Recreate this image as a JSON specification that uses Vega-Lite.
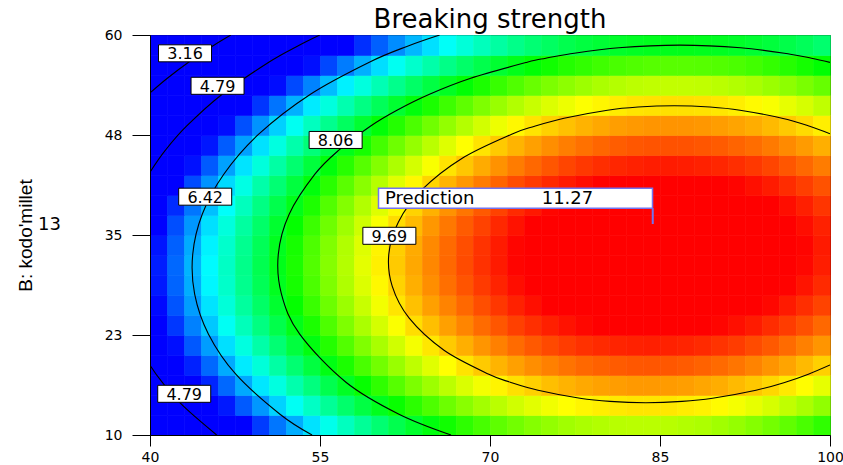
{
"$schema":"https://vega.github.io/schema/vega-lite/v6.json",
"width":680,"height":400,
"autosize":{"type":"none"},
"padding":{"left":150,"top":35,"right":13,"bottom":30},
"background":"white",
"title":{"text":"Breaking strength","font":"DejaVu Sans","fontSize":26,"fontWeight":"normal","color":"black","offset":-5,"anchor":"middle"},
"config":{"view":{"stroke":"black","strokeWidth":1},"axis":{"domainColor":"black","tickColor":"black","labelColor":"black","labelFont":"DejaVu Sans","labelFontSize":14,"grid":false,"titleFont":"Liberation Sans","titleColor":"black","titleFontWeight":"normal","labelOverlap":false,"labelFlush":false}},
"datasets":{
"cells":[
{"A":40,"B":10,"S":3.84},{"A":41.5,"B":10,"S":4.20},{"A":43,"B":10,"S":4.56},{"A":44.5,"B":10,"S":4.90},{"A":46,"B":10,"S":5.22},{"A":47.5,"B":10,"S":5.54},{"A":49,"B":10,"S":5.84},{"A":50.5,"B":10,"S":6.13},{"A":52,"B":10,"S":6.40},{"A":53.5,"B":10,"S":6.66},{"A":55,"B":10,"S":6.91},{"A":56.5,"B":10,"S":7.15},{"A":58,"B":10,"S":7.37},{"A":59.5,"B":10,"S":7.58},{"A":61,"B":10,"S":7.77},{"A":62.5,"B":10,"S":7.96},{"A":64,"B":10,"S":8.13},{"A":65.5,"B":10,"S":8.28},{"A":67,"B":10,"S":8.43},{"A":68.5,"B":10,"S":8.56},{"A":70,"B":10,"S":8.68},{"A":71.5,"B":10,"S":8.78},{"A":73,"B":10,"S":8.88},{"A":74.5,"B":10,"S":8.95},{"A":76,"B":10,"S":9.02},{"A":77.5,"B":10,"S":9.07},{"A":79,"B":10,"S":9.11},{"A":80.5,"B":10,"S":9.14},{"A":82,"B":10,"S":9.15},{"A":83.5,"B":10,"S":9.15},{"A":85,"B":10,"S":9.14},{"A":86.5,"B":10,"S":9.11},{"A":88,"B":10,"S":9.08},{"A":89.5,"B":10,"S":9.02},{"A":91,"B":10,"S":8.96},{"A":92.5,"B":10,"S":8.88},{"A":94,"B":10,"S":8.79},{"A":95.5,"B":10,"S":8.69},{"A":97,"B":10,"S":8.57},{"A":98.5,"B":10,"S":8.44},
{"A":40,"B":12.5,"S":4.28},{"A":41.5,"B":12.5,"S":4.65},{"A":43,"B":12.5,"S":5.00},{"A":44.5,"B":12.5,"S":5.34},{"A":46,"B":12.5,"S":5.67},{"A":47.5,"B":12.5,"S":5.99},{"A":49,"B":12.5,"S":6.29},{"A":50.5,"B":12.5,"S":6.58},{"A":52,"B":12.5,"S":6.86},{"A":53.5,"B":12.5,"S":7.12},{"A":55,"B":12.5,"S":7.37},{"A":56.5,"B":12.5,"S":7.61},{"A":58,"B":12.5,"S":7.83},{"A":59.5,"B":12.5,"S":8.04},{"A":61,"B":12.5,"S":8.24},{"A":62.5,"B":12.5,"S":8.42},{"A":64,"B":12.5,"S":8.59},{"A":65.5,"B":12.5,"S":8.75},{"A":67,"B":12.5,"S":8.90},{"A":68.5,"B":12.5,"S":9.03},{"A":70,"B":12.5,"S":9.15},{"A":71.5,"B":12.5,"S":9.26},{"A":73,"B":12.5,"S":9.35},{"A":74.5,"B":12.5,"S":9.43},{"A":76,"B":12.5,"S":9.50},{"A":77.5,"B":12.5,"S":9.55},{"A":79,"B":12.5,"S":9.59},{"A":80.5,"B":12.5,"S":9.62},{"A":82,"B":12.5,"S":9.64},{"A":83.5,"B":12.5,"S":9.64},{"A":85,"B":12.5,"S":9.63},{"A":86.5,"B":12.5,"S":9.60},{"A":88,"B":12.5,"S":9.57},{"A":89.5,"B":12.5,"S":9.52},{"A":91,"B":12.5,"S":9.45},{"A":92.5,"B":12.5,"S":9.38},{"A":94,"B":12.5,"S":9.29},{"A":95.5,"B":12.5,"S":9.18},{"A":97,"B":12.5,"S":9.07},{"A":98.5,"B":12.5,"S":8.94},
{"A":40,"B":15,"S":4.66},{"A":41.5,"B":15,"S":5.03},{"A":43,"B":15,"S":5.39},{"A":44.5,"B":15,"S":5.73},{"A":46,"B":15,"S":6.06},{"A":47.5,"B":15,"S":6.38},{"A":49,"B":15,"S":6.68},{"A":50.5,"B":15,"S":6.97},{"A":52,"B":15,"S":7.25},{"A":53.5,"B":15,"S":7.51},{"A":55,"B":15,"S":7.77},{"A":56.5,"B":15,"S":8.00},{"A":58,"B":15,"S":8.23},{"A":59.5,"B":15,"S":8.44},{"A":61,"B":15,"S":8.64},{"A":62.5,"B":15,"S":8.83},{"A":64,"B":15,"S":9.00},{"A":65.5,"B":15,"S":9.16},{"A":67,"B":15,"S":9.31},{"A":68.5,"B":15,"S":9.44},{"A":70,"B":15,"S":9.56},{"A":71.5,"B":15,"S":9.67},{"A":73,"B":15,"S":9.76},{"A":74.5,"B":15,"S":9.85},{"A":76,"B":15,"S":9.92},{"A":77.5,"B":15,"S":9.97},{"A":79,"B":15,"S":10.01},{"A":80.5,"B":15,"S":10.04},{"A":82,"B":15,"S":10.06},{"A":83.5,"B":15,"S":10.06},{"A":85,"B":15,"S":10.05},{"A":86.5,"B":15,"S":10.03},{"A":88,"B":15,"S":9.99},{"A":89.5,"B":15,"S":9.95},{"A":91,"B":15,"S":9.88},{"A":92.5,"B":15,"S":9.81},{"A":94,"B":15,"S":9.72},{"A":95.5,"B":15,"S":9.62},{"A":97,"B":15,"S":9.51},{"A":98.5,"B":15,"S":9.38},
{"A":40,"B":17.5,"S":4.98},{"A":41.5,"B":17.5,"S":5.35},{"A":43,"B":17.5,"S":5.71},{"A":44.5,"B":17.5,"S":6.06},{"A":46,"B":17.5,"S":6.39},{"A":47.5,"B":17.5,"S":6.70},{"A":49,"B":17.5,"S":7.01},{"A":50.5,"B":17.5,"S":7.30},{"A":52,"B":17.5,"S":7.58},{"A":53.5,"B":17.5,"S":7.85},{"A":55,"B":17.5,"S":8.10},{"A":56.5,"B":17.5,"S":8.34},{"A":58,"B":17.5,"S":8.57},{"A":59.5,"B":17.5,"S":8.78},{"A":61,"B":17.5,"S":8.98},{"A":62.5,"B":17.5,"S":9.17},{"A":64,"B":17.5,"S":9.34},{"A":65.5,"B":17.5,"S":9.50},{"A":67,"B":17.5,"S":9.65},{"A":68.5,"B":17.5,"S":9.79},{"A":70,"B":17.5,"S":9.91},{"A":71.5,"B":17.5,"S":10.02},{"A":73,"B":17.5,"S":10.12},{"A":74.5,"B":17.5,"S":10.20},{"A":76,"B":17.5,"S":10.27},{"A":77.5,"B":17.5,"S":10.33},{"A":79,"B":17.5,"S":10.37},{"A":80.5,"B":17.5,"S":10.40},{"A":82,"B":17.5,"S":10.42},{"A":83.5,"B":17.5,"S":10.43},{"A":85,"B":17.5,"S":10.42},{"A":86.5,"B":17.5,"S":10.40},{"A":88,"B":17.5,"S":10.36},{"A":89.5,"B":17.5,"S":10.32},{"A":91,"B":17.5,"S":10.26},{"A":92.5,"B":17.5,"S":10.18},{"A":94,"B":17.5,"S":10.09},{"A":95.5,"B":17.5,"S":10.00},{"A":97,"B":17.5,"S":9.88},{"A":98.5,"B":17.5,"S":9.76},
{"A":40,"B":20,"S":5.25},{"A":41.5,"B":20,"S":5.62},{"A":43,"B":20,"S":5.98},{"A":44.5,"B":20,"S":6.32},{"A":46,"B":20,"S":6.65},{"A":47.5,"B":20,"S":6.97},{"A":49,"B":20,"S":7.28},{"A":50.5,"B":20,"S":7.57},{"A":52,"B":20,"S":7.86},{"A":53.5,"B":20,"S":8.12},{"A":55,"B":20,"S":8.38},{"A":56.5,"B":20,"S":8.62},{"A":58,"B":20,"S":8.85},{"A":59.5,"B":20,"S":9.06},{"A":61,"B":20,"S":9.26},{"A":62.5,"B":20,"S":9.45},{"A":64,"B":20,"S":9.63},{"A":65.5,"B":20,"S":9.79},{"A":67,"B":20,"S":9.94},{"A":68.5,"B":20,"S":10.08},{"A":70,"B":20,"S":10.20},{"A":71.5,"B":20,"S":10.31},{"A":73,"B":20,"S":10.41},{"A":74.5,"B":20,"S":10.50},{"A":76,"B":20,"S":10.57},{"A":77.5,"B":20,"S":10.63},{"A":79,"B":20,"S":10.67},{"A":80.5,"B":20,"S":10.70},{"A":82,"B":20,"S":10.72},{"A":83.5,"B":20,"S":10.73},{"A":85,"B":20,"S":10.72},{"A":86.5,"B":20,"S":10.70},{"A":88,"B":20,"S":10.67},{"A":89.5,"B":20,"S":10.62},{"A":91,"B":20,"S":10.57},{"A":92.5,"B":20,"S":10.49},{"A":94,"B":20,"S":10.41},{"A":95.5,"B":20,"S":10.31},{"A":97,"B":20,"S":10.20},{"A":98.5,"B":20,"S":10.08},
{"A":40,"B":22.5,"S":5.45},{"A":41.5,"B":22.5,"S":5.82},{"A":43,"B":22.5,"S":6.18},{"A":44.5,"B":22.5,"S":6.53},{"A":46,"B":22.5,"S":6.86},{"A":47.5,"B":22.5,"S":7.18},{"A":49,"B":22.5,"S":7.49},{"A":50.5,"B":22.5,"S":7.79},{"A":52,"B":22.5,"S":8.07},{"A":53.5,"B":22.5,"S":8.34},{"A":55,"B":22.5,"S":8.59},{"A":56.5,"B":22.5,"S":8.84},{"A":58,"B":22.5,"S":9.07},{"A":59.5,"B":22.5,"S":9.28},{"A":61,"B":22.5,"S":9.48},{"A":62.5,"B":22.5,"S":9.68},{"A":64,"B":22.5,"S":9.85},{"A":65.5,"B":22.5,"S":10.02},{"A":67,"B":22.5,"S":10.17},{"A":68.5,"B":22.5,"S":10.31},{"A":70,"B":22.5,"S":10.43},{"A":71.5,"B":22.5,"S":10.55},{"A":73,"B":22.5,"S":10.64},{"A":74.5,"B":22.5,"S":10.73},{"A":76,"B":22.5,"S":10.80},{"A":77.5,"B":22.5,"S":10.86},{"A":79,"B":22.5,"S":10.91},{"A":80.5,"B":22.5,"S":10.94},{"A":82,"B":22.5,"S":10.97},{"A":83.5,"B":22.5,"S":10.97},{"A":85,"B":22.5,"S":10.97},{"A":86.5,"B":22.5,"S":10.95},{"A":88,"B":22.5,"S":10.92},{"A":89.5,"B":22.5,"S":10.87},{"A":91,"B":22.5,"S":10.82},{"A":92.5,"B":22.5,"S":10.75},{"A":94,"B":22.5,"S":10.66},{"A":95.5,"B":22.5,"S":10.57},{"A":97,"B":22.5,"S":10.46},{"A":98.5,"B":22.5,"S":10.33},
{"A":40,"B":25,"S":5.59},{"A":41.5,"B":25,"S":5.96},{"A":43,"B":25,"S":6.32},{"A":44.5,"B":25,"S":6.67},{"A":46,"B":25,"S":7.01},{"A":47.5,"B":25,"S":7.33},{"A":49,"B":25,"S":7.64},{"A":50.5,"B":25,"S":7.94},{"A":52,"B":25,"S":8.22},{"A":53.5,"B":25,"S":8.49},{"A":55,"B":25,"S":8.75},{"A":56.5,"B":25,"S":8.99},{"A":58,"B":25,"S":9.22},{"A":59.5,"B":25,"S":9.44},{"A":61,"B":25,"S":9.64},{"A":62.5,"B":25,"S":9.84},{"A":64,"B":25,"S":10.02},{"A":65.5,"B":25,"S":10.18},{"A":67,"B":25,"S":10.33},{"A":68.5,"B":25,"S":10.47},{"A":70,"B":25,"S":10.60},{"A":71.5,"B":25,"S":10.72},{"A":73,"B":25,"S":10.82},{"A":74.5,"B":25,"S":10.90},{"A":76,"B":25,"S":10.98},{"A":77.5,"B":25,"S":11.04},{"A":79,"B":25,"S":11.09},{"A":80.5,"B":25,"S":11.12},{"A":82,"B":25,"S":11.15},{"A":83.5,"B":25,"S":11.16},{"A":85,"B":25,"S":11.15},{"A":86.5,"B":25,"S":11.13},{"A":88,"B":25,"S":11.11},{"A":89.5,"B":25,"S":11.06},{"A":91,"B":25,"S":11.01},{"A":92.5,"B":25,"S":10.94},{"A":94,"B":25,"S":10.86},{"A":95.5,"B":25,"S":10.76},{"A":97,"B":25,"S":10.65},{"A":98.5,"B":25,"S":10.53},
{"A":40,"B":27.5,"S":5.67},{"A":41.5,"B":27.5,"S":6.04},{"A":43,"B":27.5,"S":6.40},{"A":44.5,"B":27.5,"S":6.76},{"A":46,"B":27.5,"S":7.09},{"A":47.5,"B":27.5,"S":7.42},{"A":49,"B":27.5,"S":7.73},{"A":50.5,"B":27.5,"S":8.03},{"A":52,"B":27.5,"S":8.31},{"A":53.5,"B":27.5,"S":8.58},{"A":55,"B":27.5,"S":8.84},{"A":56.5,"B":27.5,"S":9.09},{"A":58,"B":27.5,"S":9.32},{"A":59.5,"B":27.5,"S":9.54},{"A":61,"B":27.5,"S":9.74},{"A":62.5,"B":27.5,"S":9.94},{"A":64,"B":27.5,"S":10.12},{"A":65.5,"B":27.5,"S":10.29},{"A":67,"B":27.5,"S":10.44},{"A":68.5,"B":27.5,"S":10.58},{"A":70,"B":27.5,"S":10.71},{"A":71.5,"B":27.5,"S":10.83},{"A":73,"B":27.5,"S":10.93},{"A":74.5,"B":27.5,"S":11.02},{"A":76,"B":27.5,"S":11.09},{"A":77.5,"B":27.5,"S":11.16},{"A":79,"B":27.5,"S":11.21},{"A":80.5,"B":27.5,"S":11.24},{"A":82,"B":27.5,"S":11.27},{"A":83.5,"B":27.5,"S":11.28},{"A":85,"B":27.5,"S":11.28},{"A":86.5,"B":27.5,"S":11.26},{"A":88,"B":27.5,"S":11.23},{"A":89.5,"B":27.5,"S":11.19},{"A":91,"B":27.5,"S":11.14},{"A":92.5,"B":27.5,"S":11.07},{"A":94,"B":27.5,"S":10.99},{"A":95.5,"B":27.5,"S":10.89},{"A":97,"B":27.5,"S":10.79},{"A":98.5,"B":27.5,"S":10.67},
{"A":40,"B":30,"S":5.69},{"A":41.5,"B":30,"S":6.06},{"A":43,"B":30,"S":6.43},{"A":44.5,"B":30,"S":6.78},{"A":46,"B":30,"S":7.12},{"A":47.5,"B":30,"S":7.44},{"A":49,"B":30,"S":7.76},{"A":50.5,"B":30,"S":8.06},{"A":52,"B":30,"S":8.34},{"A":53.5,"B":30,"S":8.62},{"A":55,"B":30,"S":8.88},{"A":56.5,"B":30,"S":9.12},{"A":58,"B":30,"S":9.36},{"A":59.5,"B":30,"S":9.58},{"A":61,"B":30,"S":9.79},{"A":62.5,"B":30,"S":9.98},{"A":64,"B":30,"S":10.16},{"A":65.5,"B":30,"S":10.33},{"A":67,"B":30,"S":10.49},{"A":68.5,"B":30,"S":10.63},{"A":70,"B":30,"S":10.76},{"A":71.5,"B":30,"S":10.88},{"A":73,"B":30,"S":10.98},{"A":74.5,"B":30,"S":11.07},{"A":76,"B":30,"S":11.15},{"A":77.5,"B":30,"S":11.21},{"A":79,"B":30,"S":11.26},{"A":80.5,"B":30,"S":11.30},{"A":82,"B":30,"S":11.33},{"A":83.5,"B":30,"S":11.34},{"A":85,"B":30,"S":11.34},{"A":86.5,"B":30,"S":11.32},{"A":88,"B":30,"S":11.30},{"A":89.5,"B":30,"S":11.26},{"A":91,"B":30,"S":11.21},{"A":92.5,"B":30,"S":11.14},{"A":94,"B":30,"S":11.06},{"A":95.5,"B":30,"S":10.97},{"A":97,"B":30,"S":10.86},{"A":98.5,"B":30,"S":10.74},
{"A":40,"B":32.5,"S":5.65},{"A":41.5,"B":32.5,"S":6.02},{"A":43,"B":32.5,"S":6.39},{"A":44.5,"B":32.5,"S":6.74},{"A":46,"B":32.5,"S":7.08},{"A":47.5,"B":32.5,"S":7.41},{"A":49,"B":32.5,"S":7.72},{"A":50.5,"B":32.5,"S":8.03},{"A":52,"B":32.5,"S":8.31},{"A":53.5,"B":32.5,"S":8.59},{"A":55,"B":32.5,"S":8.85},{"A":56.5,"B":32.5,"S":9.10},{"A":58,"B":32.5,"S":9.33},{"A":59.5,"B":32.5,"S":9.56},{"A":61,"B":32.5,"S":9.77},{"A":62.5,"B":32.5,"S":9.96},{"A":64,"B":32.5,"S":10.15},{"A":65.5,"B":32.5,"S":10.32},{"A":67,"B":32.5,"S":10.47},{"A":68.5,"B":32.5,"S":10.62},{"A":70,"B":32.5,"S":10.75},{"A":71.5,"B":32.5,"S":10.87},{"A":73,"B":32.5,"S":10.97},{"A":74.5,"B":32.5,"S":11.06},{"A":76,"B":32.5,"S":11.14},{"A":77.5,"B":32.5,"S":11.21},{"A":79,"B":32.5,"S":11.26},{"A":80.5,"B":32.5,"S":11.30},{"A":82,"B":32.5,"S":11.33},{"A":83.5,"B":32.5,"S":11.34},{"A":85,"B":32.5,"S":11.34},{"A":86.5,"B":32.5,"S":11.33},{"A":88,"B":32.5,"S":11.30},{"A":89.5,"B":32.5,"S":11.27},{"A":91,"B":32.5,"S":11.22},{"A":92.5,"B":32.5,"S":11.15},{"A":94,"B":32.5,"S":11.07},{"A":95.5,"B":32.5,"S":10.98},{"A":97,"B":32.5,"S":10.88},{"A":98.5,"B":32.5,"S":10.76},
{"A":40,"B":35,"S":5.55},{"A":41.5,"B":35,"S":5.93},{"A":43,"B":35,"S":6.29},{"A":44.5,"B":35,"S":6.65},{"A":46,"B":35,"S":6.99},{"A":47.5,"B":35,"S":7.32},{"A":49,"B":35,"S":7.63},{"A":50.5,"B":35,"S":7.94},{"A":52,"B":35,"S":8.22},{"A":53.5,"B":35,"S":8.50},{"A":55,"B":35,"S":8.76},{"A":56.5,"B":35,"S":9.01},{"A":58,"B":35,"S":9.25},{"A":59.5,"B":35,"S":9.47},{"A":61,"B":35,"S":9.69},{"A":62.5,"B":35,"S":9.88},{"A":64,"B":35,"S":10.07},{"A":65.5,"B":35,"S":10.24},{"A":67,"B":35,"S":10.40},{"A":68.5,"B":35,"S":10.54},{"A":70,"B":35,"S":10.68},{"A":71.5,"B":35,"S":10.80},{"A":73,"B":35,"S":10.90},{"A":74.5,"B":35,"S":11.00},{"A":76,"B":35,"S":11.08},{"A":77.5,"B":35,"S":11.14},{"A":79,"B":35,"S":11.20},{"A":80.5,"B":35,"S":11.24},{"A":82,"B":35,"S":11.27},{"A":83.5,"B":35,"S":11.28},{"A":85,"B":35,"S":11.29},{"A":86.5,"B":35,"S":11.27},{"A":88,"B":35,"S":11.25},{"A":89.5,"B":35,"S":11.21},{"A":91,"B":35,"S":11.16},{"A":92.5,"B":35,"S":11.10},{"A":94,"B":35,"S":11.02},{"A":95.5,"B":35,"S":10.94},{"A":97,"B":35,"S":10.83},{"A":98.5,"B":35,"S":10.72},
{"A":40,"B":37.5,"S":5.38},{"A":41.5,"B":37.5,"S":5.76},{"A":43,"B":37.5,"S":6.13},{"A":44.5,"B":37.5,"S":6.49},{"A":46,"B":37.5,"S":6.83},{"A":47.5,"B":37.5,"S":7.16},{"A":49,"B":37.5,"S":7.48},{"A":50.5,"B":37.5,"S":7.78},{"A":52,"B":37.5,"S":8.07},{"A":53.5,"B":37.5,"S":8.35},{"A":55,"B":37.5,"S":8.62},{"A":56.5,"B":37.5,"S":8.87},{"A":58,"B":37.5,"S":9.11},{"A":59.5,"B":37.5,"S":9.33},{"A":61,"B":37.5,"S":9.54},{"A":62.5,"B":37.5,"S":9.74},{"A":64,"B":37.5,"S":9.93},{"A":65.5,"B":37.5,"S":10.10},{"A":67,"B":37.5,"S":10.26},{"A":68.5,"B":37.5,"S":10.41},{"A":70,"B":37.5,"S":10.54},{"A":71.5,"B":37.5,"S":10.67},{"A":73,"B":37.5,"S":10.77},{"A":74.5,"B":37.5,"S":10.87},{"A":76,"B":37.5,"S":10.95},{"A":77.5,"B":37.5,"S":11.02},{"A":79,"B":37.5,"S":11.07},{"A":80.5,"B":37.5,"S":11.12},{"A":82,"B":37.5,"S":11.15},{"A":83.5,"B":37.5,"S":11.16},{"A":85,"B":37.5,"S":11.17},{"A":86.5,"B":37.5,"S":11.16},{"A":88,"B":37.5,"S":11.13},{"A":89.5,"B":37.5,"S":11.10},{"A":91,"B":37.5,"S":11.05},{"A":92.5,"B":37.5,"S":10.99},{"A":94,"B":37.5,"S":10.91},{"A":95.5,"B":37.5,"S":10.83},{"A":97,"B":37.5,"S":10.73},{"A":98.5,"B":37.5,"S":10.61},
{"A":40,"B":40,"S":5.16},{"A":41.5,"B":40,"S":5.55},{"A":43,"B":40,"S":5.92},{"A":44.5,"B":40,"S":6.27},{"A":46,"B":40,"S":6.62},{"A":47.5,"B":40,"S":6.95},{"A":49,"B":40,"S":7.27},{"A":50.5,"B":40,"S":7.57},{"A":52,"B":40,"S":7.86},{"A":53.5,"B":40,"S":8.14},{"A":55,"B":40,"S":8.41},{"A":56.5,"B":40,"S":8.66},{"A":58,"B":40,"S":8.90},{"A":59.5,"B":40,"S":9.13},{"A":61,"B":40,"S":9.34},{"A":62.5,"B":40,"S":9.54},{"A":64,"B":40,"S":9.73},{"A":65.5,"B":40,"S":9.91},{"A":67,"B":40,"S":10.07},{"A":68.5,"B":40,"S":10.22},{"A":70,"B":40,"S":10.35},{"A":71.5,"B":40,"S":10.48},{"A":73,"B":40,"S":10.58},{"A":74.5,"B":40,"S":10.68},{"A":76,"B":40,"S":10.76},{"A":77.5,"B":40,"S":10.83},{"A":79,"B":40,"S":10.89},{"A":80.5,"B":40,"S":10.94},{"A":82,"B":40,"S":10.97},{"A":83.5,"B":40,"S":10.98},{"A":85,"B":40,"S":10.99},{"A":86.5,"B":40,"S":10.98},{"A":88,"B":40,"S":10.96},{"A":89.5,"B":40,"S":10.93},{"A":91,"B":40,"S":10.88},{"A":92.5,"B":40,"S":10.82},{"A":94,"B":40,"S":10.75},{"A":95.5,"B":40,"S":10.66},{"A":97,"B":40,"S":10.56},{"A":98.5,"B":40,"S":10.45},
{"A":40,"B":42.5,"S":4.88},{"A":41.5,"B":42.5,"S":5.26},{"A":43,"B":42.5,"S":5.63},{"A":44.5,"B":42.5,"S":5.99},{"A":46,"B":42.5,"S":6.34},{"A":47.5,"B":42.5,"S":6.67},{"A":49,"B":42.5,"S":6.99},{"A":50.5,"B":42.5,"S":7.30},{"A":52,"B":42.5,"S":7.59},{"A":53.5,"B":42.5,"S":7.87},{"A":55,"B":42.5,"S":8.14},{"A":56.5,"B":42.5,"S":8.40},{"A":58,"B":42.5,"S":8.64},{"A":59.5,"B":42.5,"S":8.87},{"A":61,"B":42.5,"S":9.08},{"A":62.5,"B":42.5,"S":9.28},{"A":64,"B":42.5,"S":9.47},{"A":65.5,"B":42.5,"S":9.65},{"A":67,"B":42.5,"S":9.81},{"A":68.5,"B":42.5,"S":9.96},{"A":70,"B":42.5,"S":10.10},{"A":71.5,"B":42.5,"S":10.22},{"A":73,"B":42.5,"S":10.33},{"A":74.5,"B":42.5,"S":10.43},{"A":76,"B":42.5,"S":10.52},{"A":77.5,"B":42.5,"S":10.59},{"A":79,"B":42.5,"S":10.65},{"A":80.5,"B":42.5,"S":10.69},{"A":82,"B":42.5,"S":10.72},{"A":83.5,"B":42.5,"S":10.74},{"A":85,"B":42.5,"S":10.75},{"A":86.5,"B":42.5,"S":10.74},{"A":88,"B":42.5,"S":10.72},{"A":89.5,"B":42.5,"S":10.69},{"A":91,"B":42.5,"S":10.65},{"A":92.5,"B":42.5,"S":10.59},{"A":94,"B":42.5,"S":10.52},{"A":95.5,"B":42.5,"S":10.43},{"A":97,"B":42.5,"S":10.33},{"A":98.5,"B":42.5,"S":10.22},
{"A":40,"B":45,"S":4.54},{"A":41.5,"B":45,"S":4.92},{"A":43,"B":45,"S":5.30},{"A":44.5,"B":45,"S":5.66},{"A":46,"B":45,"S":6.00},{"A":47.5,"B":45,"S":6.34},{"A":49,"B":45,"S":6.66},{"A":50.5,"B":45,"S":6.97},{"A":52,"B":45,"S":7.26},{"A":53.5,"B":45,"S":7.54},{"A":55,"B":45,"S":7.81},{"A":56.5,"B":45,"S":8.07},{"A":58,"B":45,"S":8.31},{"A":59.5,"B":45,"S":8.54},{"A":61,"B":45,"S":8.76},{"A":62.5,"B":45,"S":8.96},{"A":64,"B":45,"S":9.15},{"A":65.5,"B":45,"S":9.33},{"A":67,"B":45,"S":9.50},{"A":68.5,"B":45,"S":9.65},{"A":70,"B":45,"S":9.79},{"A":71.5,"B":45,"S":9.91},{"A":73,"B":45,"S":10.02},{"A":74.5,"B":45,"S":10.12},{"A":76,"B":45,"S":10.21},{"A":77.5,"B":45,"S":10.28},{"A":79,"B":45,"S":10.34},{"A":80.5,"B":45,"S":10.39},{"A":82,"B":45,"S":10.42},{"A":83.5,"B":45,"S":10.44},{"A":85,"B":45,"S":10.45},{"A":86.5,"B":45,"S":10.45},{"A":88,"B":45,"S":10.43},{"A":89.5,"B":45,"S":10.40},{"A":91,"B":45,"S":10.35},{"A":92.5,"B":45,"S":10.30},{"A":94,"B":45,"S":10.23},{"A":95.5,"B":45,"S":10.14},{"A":97,"B":45,"S":10.05},{"A":98.5,"B":45,"S":9.94},
{"A":40,"B":47.5,"S":4.13},{"A":41.5,"B":47.5,"S":4.52},{"A":43,"B":47.5,"S":4.90},{"A":44.5,"B":47.5,"S":5.26},{"A":46,"B":47.5,"S":5.61},{"A":47.5,"B":47.5,"S":5.94},{"A":49,"B":47.5,"S":6.27},{"A":50.5,"B":47.5,"S":6.57},{"A":52,"B":47.5,"S":6.87},{"A":53.5,"B":47.5,"S":7.15},{"A":55,"B":47.5,"S":7.42},{"A":56.5,"B":47.5,"S":7.68},{"A":58,"B":47.5,"S":7.93},{"A":59.5,"B":47.5,"S":8.16},{"A":61,"B":47.5,"S":8.38},{"A":62.5,"B":47.5,"S":8.58},{"A":64,"B":47.5,"S":8.77},{"A":65.5,"B":47.5,"S":8.95},{"A":67,"B":47.5,"S":9.12},{"A":68.5,"B":47.5,"S":9.27},{"A":70,"B":47.5,"S":9.41},{"A":71.5,"B":47.5,"S":9.54},{"A":73,"B":47.5,"S":9.65},{"A":74.5,"B":47.5,"S":9.75},{"A":76,"B":47.5,"S":9.84},{"A":77.5,"B":47.5,"S":9.92},{"A":79,"B":47.5,"S":9.98},{"A":80.5,"B":47.5,"S":10.03},{"A":82,"B":47.5,"S":10.06},{"A":83.5,"B":47.5,"S":10.08},{"A":85,"B":47.5,"S":10.09},{"A":86.5,"B":47.5,"S":10.09},{"A":88,"B":47.5,"S":10.07},{"A":89.5,"B":47.5,"S":10.04},{"A":91,"B":47.5,"S":10.00},{"A":92.5,"B":47.5,"S":9.95},{"A":94,"B":47.5,"S":9.88},{"A":95.5,"B":47.5,"S":9.79},{"A":97,"B":47.5,"S":9.70},{"A":98.5,"B":47.5,"S":9.59},
{"A":40,"B":50,"S":3.67},{"A":41.5,"B":50,"S":4.06},{"A":43,"B":50,"S":4.44},{"A":44.5,"B":50,"S":4.80},{"A":46,"B":50,"S":5.15},{"A":47.5,"B":50,"S":5.49},{"A":49,"B":50,"S":5.81},{"A":50.5,"B":50,"S":6.12},{"A":52,"B":50,"S":6.42},{"A":53.5,"B":50,"S":6.70},{"A":55,"B":50,"S":6.98},{"A":56.5,"B":50,"S":7.24},{"A":58,"B":50,"S":7.48},{"A":59.5,"B":50,"S":7.71},{"A":61,"B":50,"S":7.93},{"A":62.5,"B":50,"S":8.14},{"A":64,"B":50,"S":8.33},{"A":65.5,"B":50,"S":8.51},{"A":67,"B":50,"S":8.68},{"A":68.5,"B":50,"S":8.84},{"A":70,"B":50,"S":8.98},{"A":71.5,"B":50,"S":9.11},{"A":73,"B":50,"S":9.22},{"A":74.5,"B":50,"S":9.32},{"A":76,"B":50,"S":9.41},{"A":77.5,"B":50,"S":9.49},{"A":79,"B":50,"S":9.55},{"A":80.5,"B":50,"S":9.60},{"A":82,"B":50,"S":9.64},{"A":83.5,"B":50,"S":9.66},{"A":85,"B":50,"S":9.67},{"A":86.5,"B":50,"S":9.67},{"A":88,"B":50,"S":9.66},{"A":89.5,"B":50,"S":9.63},{"A":91,"B":50,"S":9.59},{"A":92.5,"B":50,"S":9.53},{"A":94,"B":50,"S":9.47},{"A":95.5,"B":50,"S":9.38},{"A":97,"B":50,"S":9.29},{"A":98.5,"B":50,"S":9.18},
{"A":40,"B":52.5,"S":3.15},{"A":41.5,"B":52.5,"S":3.54},{"A":43,"B":52.5,"S":3.91},{"A":44.5,"B":52.5,"S":4.28},{"A":46,"B":52.5,"S":4.63},{"A":47.5,"B":52.5,"S":4.97},{"A":49,"B":52.5,"S":5.30},{"A":50.5,"B":52.5,"S":5.61},{"A":52,"B":52.5,"S":5.91},{"A":53.5,"B":52.5,"S":6.19},{"A":55,"B":52.5,"S":6.47},{"A":56.5,"B":52.5,"S":6.73},{"A":58,"B":52.5,"S":6.98},{"A":59.5,"B":52.5,"S":7.21},{"A":61,"B":52.5,"S":7.43},{"A":62.5,"B":52.5,"S":7.64},{"A":64,"B":52.5,"S":7.83},{"A":65.5,"B":52.5,"S":8.01},{"A":67,"B":52.5,"S":8.18},{"A":68.5,"B":52.5,"S":8.34},{"A":70,"B":52.5,"S":8.48},{"A":71.5,"B":52.5,"S":8.61},{"A":73,"B":52.5,"S":8.73},{"A":74.5,"B":52.5,"S":8.83},{"A":76,"B":52.5,"S":8.92},{"A":77.5,"B":52.5,"S":9.00},{"A":79,"B":52.5,"S":9.07},{"A":80.5,"B":52.5,"S":9.12},{"A":82,"B":52.5,"S":9.16},{"A":83.5,"B":52.5,"S":9.18},{"A":85,"B":52.5,"S":9.19},{"A":86.5,"B":52.5,"S":9.19},{"A":88,"B":52.5,"S":9.18},{"A":89.5,"B":52.5,"S":9.15},{"A":91,"B":52.5,"S":9.11},{"A":92.5,"B":52.5,"S":9.06},{"A":94,"B":52.5,"S":8.99},{"A":95.5,"B":52.5,"S":8.92},{"A":97,"B":52.5,"S":8.82},{"A":98.5,"B":52.5,"S":8.72},
{"A":40,"B":55,"S":2.56},{"A":41.5,"B":55,"S":2.95},{"A":43,"B":55,"S":3.33},{"A":44.5,"B":55,"S":3.70},{"A":46,"B":55,"S":4.05},{"A":47.5,"B":55,"S":4.39},{"A":49,"B":55,"S":4.72},{"A":50.5,"B":55,"S":5.03},{"A":52,"B":55,"S":5.33},{"A":53.5,"B":55,"S":5.62},{"A":55,"B":55,"S":5.90},{"A":56.5,"B":55,"S":6.16},{"A":58,"B":55,"S":6.41},{"A":59.5,"B":55,"S":6.64},{"A":61,"B":55,"S":6.87},{"A":62.5,"B":55,"S":7.08},{"A":64,"B":55,"S":7.27},{"A":65.5,"B":55,"S":7.46},{"A":67,"B":55,"S":7.63},{"A":68.5,"B":55,"S":7.78},{"A":70,"B":55,"S":7.93},{"A":71.5,"B":55,"S":8.06},{"A":73,"B":55,"S":8.18},{"A":74.5,"B":55,"S":8.28},{"A":76,"B":55,"S":8.38},{"A":77.5,"B":55,"S":8.45},{"A":79,"B":55,"S":8.52},{"A":80.5,"B":55,"S":8.57},{"A":82,"B":55,"S":8.61},{"A":83.5,"B":55,"S":8.64},{"A":85,"B":55,"S":8.65},{"A":86.5,"B":55,"S":8.65},{"A":88,"B":55,"S":8.64},{"A":89.5,"B":55,"S":8.62},{"A":91,"B":55,"S":8.58},{"A":92.5,"B":55,"S":8.53},{"A":94,"B":55,"S":8.46},{"A":95.5,"B":55,"S":8.39},{"A":97,"B":55,"S":8.30},{"A":98.5,"B":55,"S":8.19},
{"A":40,"B":57.5,"S":1.92},{"A":41.5,"B":57.5,"S":2.31},{"A":43,"B":57.5,"S":2.69},{"A":44.5,"B":57.5,"S":3.06},{"A":46,"B":57.5,"S":3.41},{"A":47.5,"B":57.5,"S":3.76},{"A":49,"B":57.5,"S":4.09},{"A":50.5,"B":57.5,"S":4.40},{"A":52,"B":57.5,"S":4.70},{"A":53.5,"B":57.5,"S":4.99},{"A":55,"B":57.5,"S":5.27},{"A":56.5,"B":57.5,"S":5.53},{"A":58,"B":57.5,"S":5.78},{"A":59.5,"B":57.5,"S":6.02},{"A":61,"B":57.5,"S":6.24},{"A":62.5,"B":57.5,"S":6.45},{"A":64,"B":57.5,"S":6.65},{"A":65.5,"B":57.5,"S":6.84},{"A":67,"B":57.5,"S":7.01},{"A":68.5,"B":57.5,"S":7.17},{"A":70,"B":57.5,"S":7.31},{"A":71.5,"B":57.5,"S":7.45},{"A":73,"B":57.5,"S":7.57},{"A":74.5,"B":57.5,"S":7.67},{"A":76,"B":57.5,"S":7.77},{"A":77.5,"B":57.5,"S":7.85},{"A":79,"B":57.5,"S":7.91},{"A":80.5,"B":57.5,"S":7.97},{"A":82,"B":57.5,"S":8.01},{"A":83.5,"B":57.5,"S":8.04},{"A":85,"B":57.5,"S":8.05},{"A":86.5,"B":57.5,"S":8.06},{"A":88,"B":57.5,"S":8.04},{"A":89.5,"B":57.5,"S":8.02},{"A":91,"B":57.5,"S":7.98},{"A":92.5,"B":57.5,"S":7.93},{"A":94,"B":57.5,"S":7.87},{"A":95.5,"B":57.5,"S":7.80},{"A":97,"B":57.5,"S":7.71},{"A":98.5,"B":57.5,"S":7.60}
],
"contours":[
{"seg":"c969","k":0,"A":100,"B":47.66},{"seg":"c969","k":1,"A":98.21,"B":48.6},{"seg":"c969","k":2,"A":95.76,"B":49.6},{"seg":"c969","k":3,"A":92.06,"B":50.6},{"seg":"c969","k":4,"A":89.41,"B":51.0},{"seg":"c969","k":5,"A":86.25,"B":51.16},{"seg":"c969","k":6,"A":83.06,"B":51.0},{"seg":"c969","k":7,"A":80.36,"B":50.6},{"seg":"c969","k":8,"A":76.53,"B":49.6},{"seg":"c969","k":9,"A":73.94,"B":48.6},{"seg":"c969","k":10,"A":71.91,"B":47.6},{"seg":"c969","k":11,"A":67.55,"B":44.6},{"seg":"c969","k":12,"A":63.95,"B":40.6},{"seg":"c969","k":13,"A":61.91,"B":36.6},{"seg":"c969","k":14,"A":61.07,"B":32.6},{"seg":"c969","k":15,"A":61.37,"B":28.6},{"seg":"c969","k":16,"A":62.87,"B":24.6},{"seg":"c969","k":17,"A":65.94,"B":20.6},{"seg":"c969","k":18,"A":69.9,"B":17.6},{"seg":"c969","k":19,"A":71.79,"B":16.6},{"seg":"c969","k":20,"A":74.24,"B":15.6},{"seg":"c969","k":21,"A":77.94,"B":14.6},{"seg":"c969","k":22,"A":80.59,"B":14.2},{"seg":"c969","k":23,"A":83.75,"B":14.04},{"seg":"c969","k":24,"A":86.94,"B":14.2},{"seg":"c969","k":25,"A":89.64,"B":14.6},{"seg":"c969","k":26,"A":93.47,"B":15.6},{"seg":"c969","k":27,"A":96.06,"B":16.6},{"seg":"c969","k":28,"A":98.09,"B":17.6},{"seg":"c969","k":29,"A":100,"B":18.75},
{"seg":"c806","k":0,"A":100,"B":56.58},{"seg":"c806","k":1,"A":98.37,"B":57.1},{"seg":"c806","k":2,"A":96.5,"B":57.6},{"seg":"c806","k":3,"A":92.11,"B":58.4},{"seg":"c806","k":4,"A":86.76,"B":58.73},{"seg":"c806","k":5,"A":81.36,"B":58.4},{"seg":"c806","k":6,"A":76.87,"B":57.6},{"seg":"c806","k":7,"A":74.92,"B":57.1},{"seg":"c806","k":8,"A":73.28,"B":56.6},{"seg":"c806","k":9,"A":68.3,"B":54.6},{"seg":"c806","k":10,"A":64.66,"B":52.6},{"seg":"c806","k":11,"A":61.79,"B":50.6},{"seg":"c806","k":12,"A":59.44,"B":48.6},{"seg":"c806","k":13,"A":56.66,"B":45.6},{"seg":"c806","k":14,"A":54.55,"B":42.6},{"seg":"c806","k":15,"A":52.28,"B":37.6},{"seg":"c806","k":16,"A":51.32,"B":32.6},{"seg":"c806","k":17,"A":51.6,"B":27.6},{"seg":"c806","k":18,"A":53.21,"B":22.6},{"seg":"c806","k":19,"A":57.29,"B":16.6},{"seg":"c806","k":20,"A":61.97,"B":12.6},{"seg":"c806","k":21,"A":66.56,"B":10},
{"seg":"c642","k":0,"A":65.56,"B":60},{"seg":"c642","k":1,"A":62.72,"B":58.6},{"seg":"c642","k":2,"A":59.35,"B":56.6},{"seg":"c642","k":3,"A":54.16,"B":52.6},{"seg":"c642","k":4,"A":49.59,"B":47.6},{"seg":"c642","k":5,"A":46.51,"B":42.6},{"seg":"c642","k":6,"A":44.61,"B":37.6},{"seg":"c642","k":7,"A":43.77,"B":32.6},{"seg":"c642","k":8,"A":43.94,"B":27.6},{"seg":"c642","k":9,"A":45.16,"B":22.6},{"seg":"c642","k":10,"A":47.57,"B":17.6},{"seg":"c642","k":11,"A":51.47,"B":12.6},{"seg":"c642","k":12,"A":54.3,"B":10},
{"seg":"c479a","k":0,"A":54.98,"B":60},{"seg":"c479a","k":1,"A":53.0,"B":58.6},{"seg":"c479a","k":2,"A":50.48,"B":56.6},{"seg":"c479a","k":3,"A":46.37,"B":52.6},{"seg":"c479a","k":4,"A":43.22,"B":48.6},{"seg":"c479a","k":5,"A":41.36,"B":45.6},{"seg":"c479a","k":6,"A":40,"B":42.85},
{"seg":"c479b","k":0,"A":40,"B":18.71},{"seg":"c479b","k":1,"A":41.07,"B":16.6},{"seg":"c479b","k":2,"A":42.95,"B":13.6},{"seg":"c479b","k":3,"A":45.88,"B":10},
{"seg":"c316","k":0,"A":40,"B":52.76},{"seg":"c316","k":1,"A":41.53,"B":54.6},{"seg":"c316","k":2,"A":43.4,"B":56.6},{"seg":"c316","k":3,"A":45.5,"B":58.6},{"seg":"c316","k":4,"A":47.13,"B":60}
],
"labels":[
{"A":43.09,"B":57.71,"L":"3.16"},{"A":45.96,"B":53.65,"L":"4.79"},{"A":56.38,"B":46.88,"L":"8.06"},{"A":44.87,"B":39.79,"L":"6.42"},{"A":61.12,"B":34.9,"L":"9.69"},{"A":43.02,"B":15.15,"L":"4.79"}
]
},
"encoding":{
  "x":{"field":"A","type":"quantitative","scale":{"domain":[40,100],"nice":false,"zero":false},
       "axis":{"values":[40,55,70,85,100],"format":"d","title":null,"tickSize":11,"labelPadding":4}},
  "y":{"field":"B","type":"quantitative","scale":{"domain":[10,60],"nice":false,"zero":false},
       "axis":{"values":[10,22.5,35,47.5,60],"format":".0f","title":"B: kodo'millet","tickSize":18,"labelPadding":10,"titleFontSize":19,"titleX":-119,"titleY":200,"titleBaseline":"alphabetic","titleAlign":"center"}}
},
"layer":[
{"data":{"name":"cells"},"mark":{"type":"rect","strokeWidth":0.6},
 "encoding":{
  "x":{"field":"A","type":"quantitative","bin":{"binned":true,"step":1.5},"scale":{"domain":[40,100],"nice":false,"zero":false},
       "axis":{"values":[40,55,70,85,100],"format":"d","title":null,"tickSize":11,"labelPadding":4}},
  "y":{"field":"B","type":"quantitative","bin":{"binned":true,"step":2.5},"scale":{"domain":[10,60],"nice":false,"zero":false},
       "axis":{"values":[10,22.5,35,47.5,60],"format":".0f","title":"B: kodo'millet","tickSize":18,"labelPadding":10,"titleFontSize":19,"titleX":-119,"titleY":200,"titleBaseline":"alphabetic","titleAlign":"center"}},
  "color":{"field":"S","type":"quantitative","legend":null,
       "scale":{"type":"linear","domain":[5.55,6.8,8.2,9.5,10.9],"range":["#0000ff","#00ffff","#00ff00","#ffff00","#ff0000"],"clamp":true,"interpolate":"rgb"}},
  "stroke":{"field":"S","type":"quantitative","legend":null,
       "scale":{"type":"linear","domain":[5.55,6.8,8.2,9.5,10.9],"range":["#0000ff","#00ffff","#00ff00","#ffff00","#ff0000"],"clamp":true,"interpolate":"rgb"}}
 }},
{"data":{"name":"contours"},"mark":{"type":"line","color":"black","strokeWidth":1.1,"interpolate":"cardinal","clip":true},
 "encoding":{
  "detail":{"field":"seg","type":"nominal"},
  "order":{"field":"k","type":"quantitative"}
 }},
{"data":{"name":"labels"},"mark":{"type":"point","shape":"M-1,-0.3208L1,-0.3208L1,0.3208L-1,0.3208Z","size":2809,"filled":true,"fill":"white","stroke":"black","strokeWidth":1,"opacity":1,"fillOpacity":1,"strokeOpacity":1},
 "encoding":{}},
{"data":{"name":"labels"},"mark":{"type":"text","font":"DejaVu Sans","fontSize":16,"color":"black","align":"center","baseline":"middle","dy":1},
 "encoding":{
  "text":{"field":"L","type":"nominal"}
 }},
{"data":{"values":[{"A":72.25,"B":39.59}]},"mark":{"type":"point","shape":"M-1,-0.073L1,-0.073L1,0.073L-1,0.073Z","size":75076,"filled":true,"fill":"white","stroke":"#7373ee","strokeWidth":1.5,"opacity":1,"fillOpacity":1,"strokeOpacity":1},
 "encoding":{}},
{"data":{"values":[{"A":84.36,"B":38.34,"B2":36.37}]},"mark":{"type":"rule","color":"#7373ee","strokeWidth":2},
 "encoding":{
  "y2":{"field":"B2"}
 }},
{"data":{"values":[{"A":60.74,"B":39.59,"T":"Prediction"},{"A":74.56,"B":39.59,"T":"11.27"},{"A":30.12,"B":36.4,"T":"13"}]},"mark":{"type":"text","font":"DejaVu Sans","fontSize":18,"color":"black","align":"left","baseline":"middle","dy":1},
 "encoding":{
  "text":{"field":"T","type":"nominal"}
 }}
]
}
